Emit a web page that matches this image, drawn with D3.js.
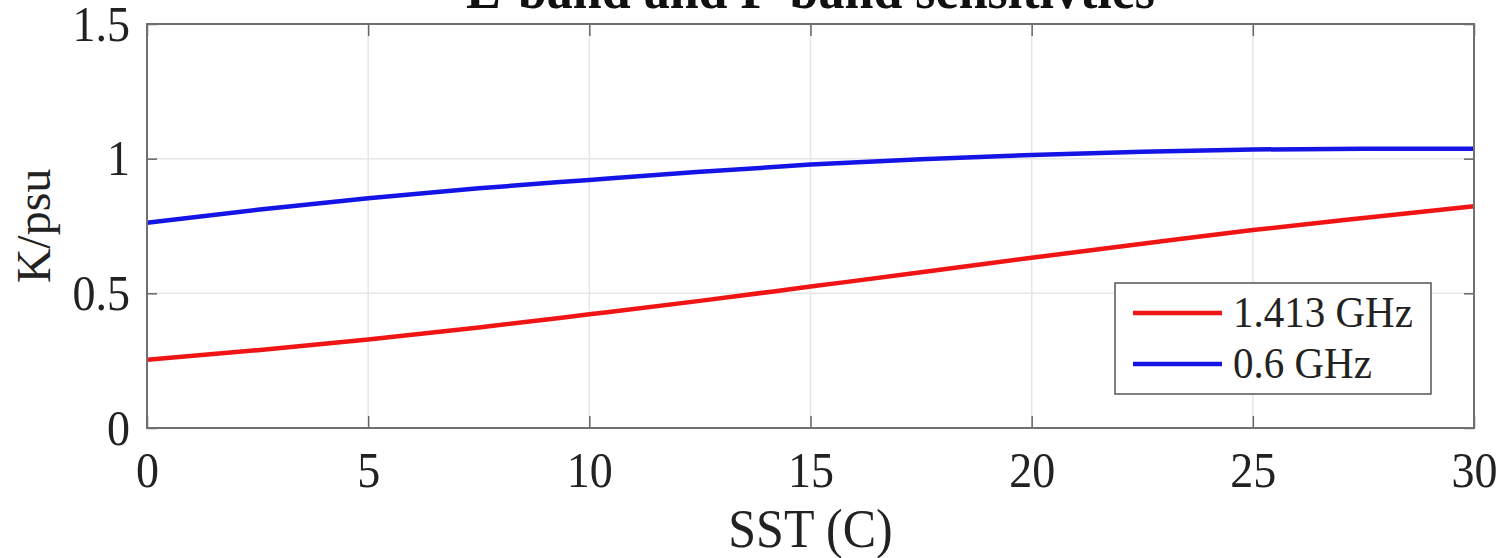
<!DOCTYPE html>
<html>
<head>
<meta charset="utf-8">
<script src="https://cdn.jsdelivr.net/npm/d3@7"></script>
<style>
  html, body { margin: 0; padding: 0; background: #fff; }
  svg { display: block; }
  text { font-family: 'Liberation Serif', 'Times New Roman', serif; fill: #222; }
</style>
</head>
<body>
<svg></svg>
<script>
'use strict'

// data, one value every 2.5 C
const sst = [0, 2.5, 5, 7.5, 10, 12.5, 15, 17.5, 20, 22.5, 25, 27.5, 30]
const lband = [0.253, 0.289, 0.329, 0.373, 0.422, 0.472, 0.525, 0.578, 0.632, 0.684, 0.735, 0.780, 0.823]
const pband = [0.762, 0.810, 0.853, 0.890, 0.921, 0.951, 0.978, 0.998, 1.014, 1.026, 1.034, 1.037, 1.037]
const seriesNames = ['1.413 GHz', '0.6 GHz']
const seriesColors = ['#f01414', '#1414e6']
const xTicks = [0, 5, 10, 15, 20, 25, 30]
const yTicks = [0, 0.5, 1, 1.5]

const width = 1507,
  height = 558
const plot = { left: 147, right: 1474, top: 24, bottom: 428 }
const stretch = 1.1 // text in the picture is a little taller than wide

const svg = d3.select('svg')
  .attr('width', width)
  .attr('height', height)

const x = d3.scaleLinear().domain([0, 30]).range([plot.left, plot.right])
const y = d3.scaleLinear().domain([0, 1.5]).range([plot.bottom, plot.top])

// grid
const grid = svg.append('g')
grid.selectAll('.vg')
  .data(xTicks.slice(1, -1))
  .enter()
  .append('line')
  .attr('x1', d => x(d)).attr('x2', d => x(d))
  .attr('y1', plot.top).attr('y2', plot.bottom)
  .style('stroke', '#e6e6e6').style('stroke-width', 1.5)
grid.selectAll('.hg')
  .data(yTicks.slice(1, -1))
  .enter()
  .append('line')
  .attr('x1', plot.left).attr('x2', plot.right)
  .attr('y1', d => y(d)).attr('y2', d => y(d))
  .style('stroke', '#e6e6e6').style('stroke-width', 1.5)

// lines
const line = d3.line()
  .x(d => x(d[0]))
  .y(d => y(d[1]))
  .curve(d3.curveMonotoneX)

const series = [lband, pband]
series.forEach((vals, i) => {
  svg.append('path')
    .datum(sst.map((s, j) => [s, vals[j]]))
    .attr('d', line)
    .style('fill', 'none')
    .style('stroke', seriesColors[i])
    .style('stroke-width', 4.5)
})

// axes, ticks pointing inwards
function styleAxis(g) {
  g.select('.domain').remove()
  g.selectAll('.tick line').style('stroke', '#666').style('stroke-width', 1.5)
  g.selectAll('text').style('font-size', '46px').style('fill', '#222')
}

svg.append('g')
  .attr('transform', 'translate(0,' + plot.bottom + ')')
  .call(d3.axisBottom(x).tickValues(xTicks).tickSize(-12).tickFormat(d3.format('d')))
  .call(styleAxis)
  .call(g => g.selectAll('text')
    .attr('y', 0).attr('dy', null)
    .attr('transform', 'translate(0,59) scale(1,' + stretch + ')'))

svg.append('g')
  .attr('transform', 'translate(0,' + plot.top + ')')
  .call(d3.axisTop(x).tickValues(xTicks).tickSize(-12).tickFormat(''))
  .call(styleAxis)

svg.append('g')
  .attr('transform', 'translate(' + plot.left + ',0)')
  .call(d3.axisLeft(y).tickValues(yTicks).tickSize(-10).tickFormat(d => d))
  .call(styleAxis)
  .call(g => g.selectAll('text')
    .attr('x', 0).attr('dy', null)
    .attr('transform', 'translate(-17,16) scale(1,' + stretch + ')'))

svg.append('g')
  .attr('transform', 'translate(' + plot.right + ',0)')
  .call(d3.axisRight(y).tickValues(yTicks).tickSize(-10).tickFormat(''))
  .call(styleAxis)

// box
svg.append('rect')
  .attr('x', plot.left).attr('y', plot.top)
  .attr('width', plot.right - plot.left)
  .attr('height', plot.bottom - plot.top)
  .style('fill', 'none')
  .style('stroke', '#707070')
  .style('stroke-width', 2)

// title, cut off at the top edge like in the source image
svg.append('text')
  .attr('transform', 'translate(' + (plot.left + plot.right) / 2 + ',8) scale(1,' + stretch + ')')
  .attr('text-anchor', 'middle')
  .style('font-size', '52px')
  .style('font-weight', 'bold')
  .style('fill', '#111')
  .text('L-band and P-band sensitivties')

// axis labels
svg.append('text')
  .attr('transform', 'translate(' + (plot.left + plot.right) / 2 + ',547) scale(1,' + stretch + ')')
  .attr('text-anchor', 'middle')
  .style('font-size', '50px')
  .text('SST (C)')

svg.append('text')
  .attr('transform', 'translate(50,' + (plot.top + plot.bottom) / 2 + ') rotate(-90)')
  .attr('text-anchor', 'middle')
  .style('font-size', '48px')
  .text('K/psu')

// legend
const legend = svg.append('g').attr('transform', 'translate(1115,283)')
legend.append('rect')
  .attr('width', 316).attr('height', 111)
  .style('fill', '#fff')
  .style('stroke', '#555')
  .style('stroke-width', 1.5)

seriesNames.forEach((name, i) => {
  const row = legend.append('g').attr('transform', 'translate(0,' + (30 + i * 51) + ')')
  row.append('line')
    .attr('x1', 18).attr('x2', 107)
    .style('stroke', seriesColors[i])
    .style('stroke-width', 4.5)
  row.append('text')
    .attr('transform', 'translate(118,14) scale(1,' + stretch + ')')
    .style('font-size', '41px')
    .text(name)
})
</script>
</body>
</html>
